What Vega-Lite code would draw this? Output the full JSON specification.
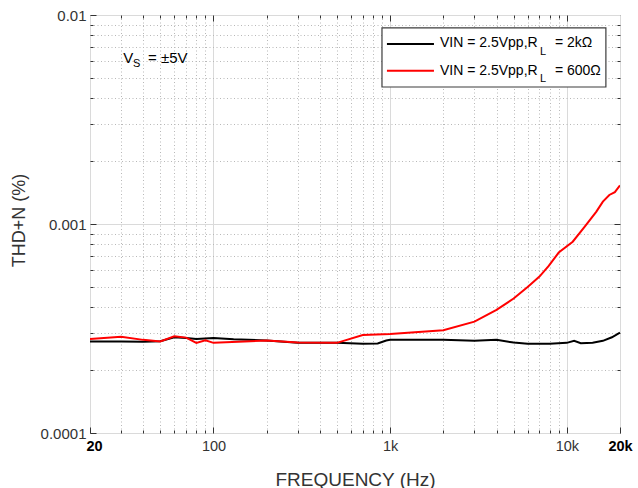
{
  "$schema": "https://vega.github.io/schema/vega-lite/v6.json",
  "width": 530,
  "height": 418,
  "autosize": {"type": "none"},
  "padding": {"left": 90, "top": 15, "right": 18, "bottom": 55},
  "background": "#ffffff",
  "config": {
    "font": "Liberation Sans",
    "view": {"stroke": "#3a3a3a", "strokeWidth": 1},
    "axis": {"domain": false, "labelFont": "Liberation Sans", "titleFont": "Liberation Sans"}
  },
  "datasets": {
    "thd": [
      {"series": "2k", "f": 20, "thd": 0.000274},
      {"series": "2k", "f": 25, "thd": 0.000274},
      {"series": "2k", "f": 30, "thd": 0.000274},
      {"series": "2k", "f": 40, "thd": 0.000273},
      {"series": "2k", "f": 50, "thd": 0.000275},
      {"series": "2k", "f": 60, "thd": 0.000287},
      {"series": "2k", "f": 70, "thd": 0.000285},
      {"series": "2k", "f": 80, "thd": 0.000282},
      {"series": "2k", "f": 100, "thd": 0.000285},
      {"series": "2k", "f": 130, "thd": 0.000281},
      {"series": "2k", "f": 200, "thd": 0.000277},
      {"series": "2k", "f": 300, "thd": 0.00027},
      {"series": "2k", "f": 500, "thd": 0.00027},
      {"series": "2k", "f": 700, "thd": 0.000267},
      {"series": "2k", "f": 850, "thd": 0.000268},
      {"series": "2k", "f": 950, "thd": 0.000277},
      {"series": "2k", "f": 1000, "thd": 0.000279},
      {"series": "2k", "f": 2000, "thd": 0.000279},
      {"series": "2k", "f": 3000, "thd": 0.000276},
      {"series": "2k", "f": 4000, "thd": 0.000279},
      {"series": "2k", "f": 5000, "thd": 0.000271},
      {"series": "2k", "f": 6000, "thd": 0.000267},
      {"series": "2k", "f": 8000, "thd": 0.000267},
      {"series": "2k", "f": 10000, "thd": 0.00027},
      {"series": "2k", "f": 11000, "thd": 0.000276},
      {"series": "2k", "f": 12000, "thd": 0.000269},
      {"series": "2k", "f": 14000, "thd": 0.00027},
      {"series": "2k", "f": 16000, "thd": 0.000276},
      {"series": "2k", "f": 18000, "thd": 0.000287},
      {"series": "2k", "f": 20000, "thd": 0.000302},
      {"series": "600", "f": 20, "thd": 0.000282},
      {"series": "600", "f": 30, "thd": 0.000289},
      {"series": "600", "f": 40, "thd": 0.000279},
      {"series": "600", "f": 50, "thd": 0.000274},
      {"series": "600", "f": 60, "thd": 0.00029},
      {"series": "600", "f": 70, "thd": 0.000286},
      {"series": "600", "f": 80, "thd": 0.00027},
      {"series": "600", "f": 90, "thd": 0.000278},
      {"series": "600", "f": 100, "thd": 0.00027},
      {"series": "600", "f": 150, "thd": 0.000274},
      {"series": "600", "f": 200, "thd": 0.000277},
      {"series": "600", "f": 300, "thd": 0.000271},
      {"series": "600", "f": 500, "thd": 0.00027},
      {"series": "600", "f": 700, "thd": 0.000294},
      {"series": "600", "f": 1000, "thd": 0.000298},
      {"series": "600", "f": 2000, "thd": 0.00031},
      {"series": "600", "f": 3000, "thd": 0.000341},
      {"series": "600", "f": 4000, "thd": 0.000388},
      {"series": "600", "f": 5000, "thd": 0.00044},
      {"series": "600", "f": 6000, "thd": 0.0005},
      {"series": "600", "f": 7000, "thd": 0.00056},
      {"series": "600", "f": 7900, "thd": 0.00063},
      {"series": "600", "f": 9000, "thd": 0.00073},
      {"series": "600", "f": 10800, "thd": 0.000823},
      {"series": "600", "f": 12600, "thd": 0.00097},
      {"series": "600", "f": 14700, "thd": 0.001146},
      {"series": "600", "f": 16000, "thd": 0.00128},
      {"series": "600", "f": 17400, "thd": 0.001377},
      {"series": "600", "f": 18700, "thd": 0.00142},
      {"series": "600", "f": 20000, "thd": 0.00153}
    ],
    "keybox": [{"f1": 899, "f2": 16640, "v1": 0.00867, "v2": 0.004523}],
    "keylines": [
      {"series": "2k", "f1": 959, "f2": 1770, "v": 0.007264},
      {"series": "600", "f1": 959, "f2": 1770, "v": 0.005413}
    ],
    "keytext": [
      {"f": 1914, "v": 0.007009, "text": "VIN = 2.5Vpp,R"},
      {"f": 8562, "v": 0.007009, "text": "= 2kΩ"},
      {"f": 1914, "v": 0.005164, "text": "VIN = 2.5Vpp,R"},
      {"f": 8562, "v": 0.005164, "text": "= 600Ω"}
    ],
    "vs": [
      {"f": 30.8, "v": 0.005875, "text": "V"},
      {"f": 42.6, "v": 0.005875, "text": "= ±5V"}
    ],
    "subs": [
      {"f": 35.0, "v": 0.005656, "text": "S"},
      {"f": 7041, "v": 0.00644, "text": "L"},
      {"f": 7041, "v": 0.0048, "text": "L"}
    ]
  },
  "layer": [
    {
      "data": {"name": "thd"},
      "transform": [{"filter": "datum.series == '2k'"}],
      "mark": {"type": "line", "strokeWidth": 2, "clip": true},
      "encoding": {
        "x": {
          "field": "f", "type": "quantitative",
          "scale": {"type": "log", "domain": [20, 20000], "nice": false},
          "axis": {
            "orient": "bottom", "values": [30, 40, 50, 60, 70, 80, 90, 200, 300, 400, 500, 600, 700, 800, 900, 2000, 3000, 4000, 5000, 6000, 7000, 8000, 9000],
            "grid": true, "gridColor": "#b8b8b8", "gridDash": [1, 2.5], "gridWidth": 1,
            "labels": false, "ticks": true, "tickSize": -3, "tickColor": "#333333", "title": null
          }
        },
        "y": {
          "field": "thd", "type": "quantitative",
          "scale": {"type": "log", "domain": [0.0001, 0.01], "nice": false},
          "axis": {
            "orient": "left", "values": [0.0002, 0.0003, 0.0004, 0.0005, 0.0006, 0.0007, 0.0008, 0.0009, 0.002, 0.003, 0.004, 0.005, 0.006, 0.007, 0.008, 0.009],
            "grid": true, "gridColor": "#b8b8b8", "gridDash": [1, 2.5], "gridWidth": 1,
            "labels": false, "ticks": true, "tickSize": -3, "tickColor": "#333333", "title": null
          }
        },
        "color": {"field": "series", "type": "nominal", "scale": {"domain": ["2k", "600"], "range": ["#000000", "#ff0000"]}, "legend": null}
      }
    },
    {
      "data": {"name": "thd"},
      "transform": [{"filter": "datum.series == '600'"}],
      "mark": {"type": "line", "strokeWidth": 2, "clip": true},
      "encoding": {
        "x": {
          "field": "f", "type": "quantitative",
          "axis": {
            "orient": "bottom", "values": [20, 100, 1000, 10000, 20000],
            "grid": true, "gridColor": "#dadada", "gridWidth": 1,
            "ticks": true, "tickSize": -6, "tickColor": "#333333",
            "labelFlush": false, "labelPadding": 12, "labelFontSize": 14.5,
            "labelOffset": {"expr": "datum.value == 20 ? 4 : 0"},
            "labelExpr": "datum.value >= 1000 ? format(datum.value / 1000, 'd') + 'k' : format(datum.value, 'd')",
            "labelFontWeight": {"expr": "datum.value == 20 || datum.value == 20000 ? 'bold' : 'normal'"},
            "labelColor": {"expr": "datum.value == 20 || datum.value == 20000 ? '#000000' : '#333333'"},
            "title": "FREQUENCY (Hz)", "titleFontSize": 19, "titleFontWeight": "normal", "titleColor": "#333333",
            "titleAnchor": "middle", "titleY": 52, "titleBaseline": "alphabetic"
          }
        },
        "y": {
          "field": "thd", "type": "quantitative",
          "axis": {
            "orient": "left", "values": [0.0001, 0.001, 0.01],
            "grid": true, "gridColor": "#dadada", "gridWidth": 1,
            "ticks": true, "tickSize": -6, "tickColor": "#333333",
            "labelPadding": 10, "labelFontSize": 15, "labelColor": "#333333", "labelFlush": false,
            "labelExpr": "datum.value == 0.01 ? '0.01' : datum.value == 0.001 ? '0.001' : '0.0001'",
            "title": "THD+N (%)", "titleFontSize": 18, "titleFontWeight": "normal", "titleColor": "#333333",
            "titleAngle": -90, "titleX": -71, "titleY": 205, "titleAnchor": "middle", "titleBaseline": "middle", "titleAlign": "center"
          }
        },
        "color": {"field": "series", "type": "nominal", "legend": null}
      }
    },
    {
      "data": {"name": "keybox"},
      "mark": {"type": "rect", "fill": "#ffffff", "stroke": "#3c3c3c", "strokeWidth": 1.2},
      "encoding": {
        "x": {"field": "f1", "type": "quantitative", "axis": null},
        "x2": {"field": "f2"},
        "y": {"field": "v1", "type": "quantitative", "axis": null},
        "y2": {"field": "v2"}
      }
    },
    {
      "data": {"name": "keylines"},
      "mark": {"type": "rule", "strokeWidth": 2},
      "encoding": {
        "x": {
          "field": "f1", "type": "quantitative",
          "axis": {
            "orient": "top", "values": [30, 40, 50, 60, 70, 80, 90, 200, 300, 400, 500, 600, 700, 800, 900, 2000, 3000, 4000, 5000, 6000, 7000, 8000, 9000],
            "grid": false, "labels": false, "ticks": true, "tickSize": -3, "tickColor": "#333333", "title": null
          }
        },
        "x2": {"field": "f2"},
        "y": {
          "field": "v", "type": "quantitative",
          "axis": {
            "orient": "right", "values": [0.0002, 0.0003, 0.0004, 0.0005, 0.0006, 0.0007, 0.0008, 0.0009, 0.002, 0.003, 0.004, 0.005, 0.006, 0.007, 0.008, 0.009],
            "grid": false, "labels": false, "ticks": true, "tickSize": -3, "tickColor": "#333333", "title": null
          }
        },
        "color": {"field": "series", "type": "nominal", "legend": null}
      }
    },
    {
      "data": {"name": "keytext"},
      "mark": {"type": "text", "align": "left", "baseline": "alphabetic", "fontSize": 14, "color": "#000000"},
      "encoding": {
        "x": {
          "field": "f", "type": "quantitative",
          "axis": {"orient": "top", "values": [100, 1000, 10000], "grid": false, "labels": false, "ticks": true, "tickSize": -6, "tickColor": "#333333", "title": null}
        },
        "y": {
          "field": "v", "type": "quantitative",
          "axis": {"orient": "right", "values": [0.001], "grid": false, "labels": false, "ticks": true, "tickSize": -6, "tickColor": "#333333", "title": null}
        },
        "text": {"field": "text"}
      }
    },
    {
      "data": {"name": "vs"},
      "mark": {"type": "text", "align": "left", "baseline": "alphabetic", "fontSize": 15, "color": "#000000"},
      "encoding": {
        "x": {"field": "f", "type": "quantitative", "axis": null},
        "y": {"field": "v", "type": "quantitative", "axis": null},
        "text": {"field": "text"}
      }
    },
    {
      "data": {"name": "subs"},
      "mark": {"type": "text", "align": "left", "baseline": "alphabetic", "fontSize": 11, "color": "#000000"},
      "encoding": {
        "x": {"field": "f", "type": "quantitative", "axis": null},
        "y": {"field": "v", "type": "quantitative", "axis": null},
        "text": {"field": "text"}
      }
    }
  ],
  "resolve": {"axis": {"x": "independent", "y": "independent"}}
}
